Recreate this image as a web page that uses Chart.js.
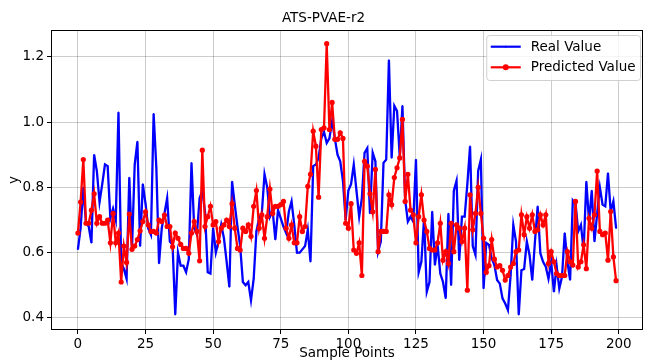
<!DOCTYPE html>
<html>
<head>
<meta charset="utf-8">
<script src="https://cdn.jsdelivr.net/npm/chart.js@4/dist/chart.umd.min.js"></script>
<style>
  html, body { margin: 0; padding: 0; background: #fff; }
</style>
</head>
<body>
<canvas id="myChart" width="647" height="360"></canvas>
<script>
// data
const realValue = [
  0.61, 0.675, 0.80, 0.69, 0.68, 0.63, 0.90, 0.85, 0.755, 0.81,
  0.87, 0.865, 0.705, 0.735, 0.70, 1.03, 0.57, 0.55, 0.52, 0.83,
  0.613, 0.87, 0.94, 0.62, 0.81, 0.75, 0.675, 0.655, 1.025, 0.86,
  0.567, 0.675, 0.72, 0.767, 0.634, 0.624, 0.41, 0.60, 0.56, 0.56,
  0.54, 0.58, 0.875, 0.675, 0.655, 0.767, 0.79, 0.726, 0.54, 0.536,
  0.675, 0.60, 0.634, 0.685, 0.644, 0.572, 0.495, 0.818, 0.747, 0.68,
  0.62, 0.51, 0.50, 0.51, 0.454, 0.52, 0.665, 0.705, 0.72, 0.84,
  0.80, 0.71, 0.73, 0.64, 0.73, 0.705, 0.68, 0.66, 0.726, 0.757,
  0.685, 0.60, 0.60, 0.61, 0.62, 0.67, 0.572, 0.865, 0.87, 0.89,
  0.95, 0.97, 0.936, 0.95, 1.003, 0.95, 0.90, 0.88, 0.82, 0.70,
  0.79, 0.81, 0.87, 0.79, 0.71, 0.767, 0.906, 0.92, 0.72, 0.906,
  0.88, 0.603, 0.634, 0.875, 0.885, 1.19, 0.89, 1.05, 1.034, 0.895,
  1.05, 0.762, 0.695, 0.71, 0.695, 0.885, 0.54, 0.572, 0.705, 0.48,
  0.51, 0.726, 0.562, 0.624, 0.536, 0.51, 0.46, 0.72, 0.50, 0.79,
  0.82, 0.577, 0.71, 0.71, 0.81, 0.926, 0.62, 0.593, 0.85, 0.885,
  0.49, 0.63, 0.624, 0.582, 0.562, 0.516, 0.505, 0.46, 0.444, 0.424,
  0.531, 0.685, 0.634, 0.41, 0.546, 0.55, 0.634, 0.593, 0.516, 0.634,
  0.742, 0.598, 0.572, 0.557, 0.52, 0.572, 0.48, 0.56, 0.49, 0.526,
  0.66, 0.572, 0.516, 0.76, 0.75, 0.665, 0.685, 0.608, 0.818, 0.695,
  0.79, 0.634, 0.72, 0.80, 0.747, 0.742, 0.844, 0.726, 0.757, 0.675
];
const predictedValue = [
  0.66, 0.755, 0.885, 0.69, 0.69, 0.73, 0.78, 0.69, 0.71, 0.69,
  0.69, 0.70, 0.63, 0.72, 0.63, 0.66, 0.51, 0.62, 0.57, 0.718,
  0.61, 0.62, 0.64, 0.667, 0.695, 0.725, 0.685, 0.665, 0.665, 0.66,
  0.70, 0.695, 0.715, 0.68, 0.68, 0.618, 0.66, 0.644, 0.625, 0.613,
  0.613, 0.598, 0.66, 0.695, 0.665, 0.575, 0.914, 0.68, 0.71, 0.742,
  0.685, 0.695, 0.634, 0.675, 0.685, 0.70, 0.68, 0.75, 0.675, 0.613,
  0.608, 0.675, 0.665, 0.685, 0.65, 0.742, 0.79, 0.675, 0.716, 0.644,
  0.71, 0.795, 0.72, 0.742, 0.742, 0.747, 0.757, 0.675, 0.644, 0.685,
  0.63, 0.63, 0.71, 0.665, 0.68, 0.803, 0.84, 0.972, 0.926, 0.77,
  0.977, 0.982, 1.24, 0.977, 1.06, 0.947, 0.947, 0.967, 0.95, 0.69,
  0.675, 0.75, 0.608, 0.598, 0.63, 0.53, 0.88, 0.865, 0.78, 0.725,
  0.855, 0.603, 0.665, 0.665, 0.665, 0.777, 0.747, 0.83, 0.86, 0.89,
  1.008, 0.757, 0.84, 0.73, 0.716, 0.63, 0.71, 0.777, 0.70, 0.665,
  0.613, 0.608, 0.608, 0.63, 0.69, 0.577, 0.603, 0.567, 0.69, 0.603,
  0.685, 0.675, 0.634, 0.675, 0.485, 0.777, 0.67, 0.72, 0.80, 0.72,
  0.644, 0.54, 0.56, 0.64, 0.58, 0.556, 0.56, 0.546, 0.516, 0.53,
  0.556, 0.567, 0.603, 0.608, 0.716, 0.655, 0.71, 0.675, 0.716, 0.665,
  0.67, 0.716, 0.685, 0.716, 0.567, 0.603, 0.572, 0.536, 0.53, 0.53,
  0.53, 0.603, 0.572, 0.562, 0.757, 0.556, 0.572, 0.624, 0.551, 0.705,
  0.675, 0.716, 0.85, 0.665, 0.655, 0.66, 0.577, 0.726, 0.587, 0.514
];
const xTicks = [0, 25, 50, 75, 100, 125, 150, 175, 200];
const yTicks = [0.4, 0.6, 0.8, 1.0, 1.2];
const samplePoints = realValue.map((v, i) => i);

const fontFamily = "'DejaVu Sans', sans-serif";
const fontSize = 13.5;
const gridOpts = {
  color: 'rgba(0,0,0,0.2)',
  borderDash: [2.5, 2.5],
  tickBorderDash: [],
  tickColor: '#000',
  tickLength: 4,
  tickWidth: 1
};

// black frame + legend box like matplotlib
const framePlugin = {
  id: 'frame',
  afterDraw(chart) {
    const { ctx, chartArea: ca } = chart;
    ctx.save();
    ctx.strokeStyle = '#000';
    ctx.lineWidth = 1;
    ctx.strokeRect(ca.left + 0.5, ca.top + 0.5, ca.right - ca.left - 1, ca.bottom - ca.top - 1);

    // legend
    ctx.font = fontSize + 'px ' + fontFamily;
    const items = [
      { text: 'Real Value', color: '#0000ff', marker: 1 },
      { text: 'Predicted Value', color: '#ff0000', marker: 3 }
    ];
    const textW = Math.max(...items.map(it => ctx.measureText(it.text).width));
    const w = 4 + 30 + 10 + textW + 5;
    const h = 45;
    const x0 = ca.right - 2.5 - w;
    const y0 = ca.top + 5.5;
    ctx.fillStyle = 'rgba(255,255,255,0.8)';
    ctx.strokeStyle = '#d0d0d0';
    ctx.beginPath();
    ctx.roundRect(x0, y0, w, h, 3);
    ctx.fill();
    ctx.stroke();
    items.forEach((it, k) => {
      const yy = y0 + 11.2 + k * 20.6;
      const hx = x0 + 4;
      ctx.strokeStyle = it.color;
      ctx.lineWidth = 2.2;
      ctx.beginPath();
      ctx.moveTo(hx, yy);
      ctx.lineTo(hx + 30, yy);
      ctx.stroke();
      ctx.fillStyle = it.color;
      ctx.beginPath();
      ctx.arc(hx + 15, yy, it.marker, 0, Math.PI * 2);
      ctx.fill();
      ctx.fillStyle = '#000';
      ctx.textBaseline = 'middle';
      ctx.textAlign = 'left';
      ctx.fillText(it.text, hx + 30 + 10, yy + 0.5);
    });
    ctx.restore();
  }
};

const ctx = document.getElementById('myChart').getContext('2d');
window.myChart = new Chart(ctx, {
  type: 'line',
  data: {
    datasets: [
      {
        label: 'Real Value',
        data: samplePoints.map(i => ({ x: i, y: realValue[i] })),
        borderColor: '#0000ff',
        backgroundColor: '#0000ff',
        borderWidth: 2.3,
        pointRadius: 0.8,
        pointBorderWidth: 0,
        tension: 0,
        order: 2
      },
      {
        label: 'Predicted Value',
        data: samplePoints.map(i => ({ x: i, y: predictedValue[i] })),
        borderColor: '#ff0000',
        backgroundColor: '#ff0000',
        borderWidth: 2.3,
        pointRadius: 2.6,
        pointBorderWidth: 0,
        tension: 0,
        order: 1
      }
    ]
  },
  options: {
    responsive: false,
    animation: false,
    devicePixelRatio: 1,
    layout: { padding: { left: 4, right: 4, top: 0, bottom: 0 } },
    plugins: {
      legend: { display: false },
      tooltip: { enabled: false },
      title: {
        display: true,
        text: 'ATS-PVAE-r2',
        color: '#000',
        font: { family: fontFamily, size: fontSize, weight: 'normal' },
        padding: { top: 10, bottom: 3.8 }
      }
    },
    scales: {
      x: {
        type: 'linear',
        min: -9.95,
        max: 208.95,
        afterBuildTicks: s => { s.ticks = xTicks.map(v => ({ value: v })); },
        afterFit: s => { s.height = 30; },
        grid: gridOpts,
        border: { display: false },
        ticks: {
          color: '#000',
          padding: 2,
          maxRotation: 0,
          font: { family: fontFamily, size: fontSize },
          callback: v => String(v)
        },
        title: {
          display: true,
          text: 'Sample Points',
          color: '#000',
          font: { family: fontFamily, size: fontSize },
          padding: { top: 0, bottom: -1.5 }
        }
      },
      y: {
        min: 0.363,
        max: 1.282,
        afterBuildTicks: s => { s.ticks = yTicks.map(v => ({ value: v })); },
        afterFit: s => { s.width = 47; },
        grid: gridOpts,
        border: { display: false },
        ticks: {
          color: '#000',
          padding: 3,
          font: { family: fontFamily, size: fontSize },
          callback: v => v.toFixed(1)
        },
        title: {
          display: true,
          text: 'y',
          color: '#000',
          font: { family: fontFamily, size: fontSize },
          padding: { top: 2, bottom: 0 }
        }
      }
    }
  },
  plugins: [framePlugin]
});
</script>
</body>
</html>
